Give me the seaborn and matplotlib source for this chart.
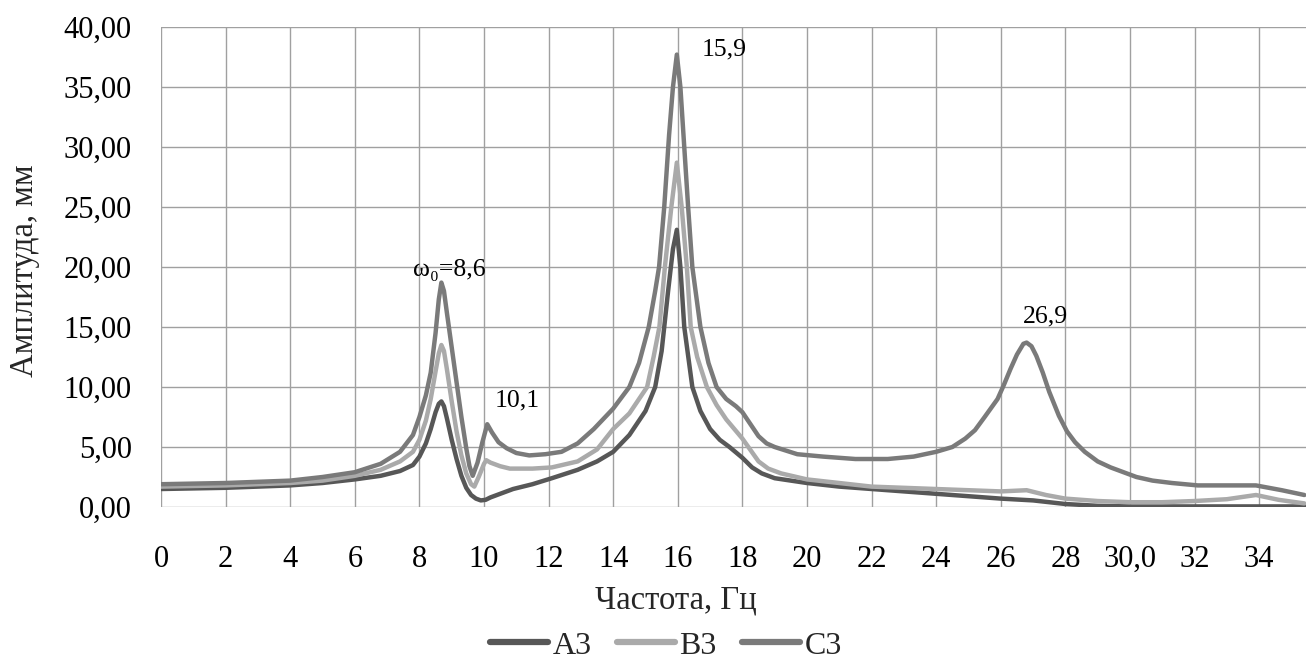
import pandas as pd
import matplotlib.pyplot as plt
import seaborn as sns

# --- data (frequency, Hz / amplitude, mm) ---
a3_freq = [0, 2, 4, 5, 6, 6.8, 7.4, 7.8, 8.0, 8.2, 8.35, 8.5, 8.6, 8.68, 8.76, 8.85, 9.0, 9.15, 9.3,
           9.45, 9.6, 9.75, 9.9, 10.05, 10.2, 10.5, 10.9, 11.5, 12.1, 12.9, 13.5, 14.0, 14.5, 15.0,
           15.3, 15.5, 15.7, 15.85, 15.97, 16.08, 16.2, 16.45, 16.7, 17.0, 17.3, 17.6, 18.0, 18.3,
           18.6, 19.0, 20, 21, 22, 23, 24, 25, 26, 27, 28, 29, 30, 32, 34, 35.4]
a3_amp = [1.5, 1.6, 1.8, 2.0, 2.3, 2.6, 3.0, 3.5, 4.2, 5.3, 6.5, 7.9, 8.6, 8.8, 8.4, 7.4, 5.6, 4.0, 2.6,
          1.6, 1.0, 0.7, 0.55, 0.6, 0.8, 1.1, 1.5, 1.9, 2.4, 3.1, 3.8, 4.6, 6.0, 8.0,
          10.0, 13.0, 18.0, 21.5, 23.1, 20.0, 15.0, 10.0, 8.0, 6.5, 5.6, 5.0, 4.1, 3.3,
          2.8, 2.4, 2.0, 1.7, 1.5, 1.3, 1.1, 0.9, 0.7, 0.55, 0.25, 0.1, 0.05, 0.05, 0.05, 0.05]

b3_freq = [0, 2, 4, 5, 6, 6.8, 7.4, 7.8, 8.0, 8.2, 8.35, 8.5, 8.6, 8.68, 8.76, 8.85, 9.0, 9.15, 9.3,
           9.45, 9.6, 9.7, 9.85, 10.0, 10.07, 10.2, 10.5, 10.8, 11.5, 12.1, 12.9, 13.5, 14.0, 14.5,
           15.05, 15.25, 15.43, 15.6, 15.8, 15.97, 16.12, 16.28, 16.4, 16.6, 16.9, 17.2, 17.5, 18.0,
           18.5, 18.8, 19.2, 20, 21, 22, 23, 24, 25, 26, 26.8, 27.4, 28, 29, 30, 31, 32, 33, 33.9,
           34.6, 35.4]
b3_amp = [1.7, 1.8, 2.0, 2.2, 2.6, 3.1, 3.8, 4.6, 5.6, 7.2, 9.0, 11.3, 12.8, 13.5, 13.0, 11.5, 8.8, 6.3, 4.3,
          2.8, 1.9, 1.7, 2.6, 3.6, 3.9, 3.7, 3.4, 3.2, 3.2, 3.3, 3.8, 4.8, 6.5, 7.8,
          10.0, 12.5, 15.0, 20.0, 25.0, 28.7, 25.0, 20.0, 15.0, 12.5, 10.0, 8.5, 7.3, 5.7,
          3.8, 3.2, 2.8, 2.3, 2.0, 1.7, 1.6, 1.5, 1.4, 1.3, 1.4, 1.0, 0.7, 0.5, 0.4, 0.4, 0.5, 0.65, 1.0,
          0.6, 0.3]

c3_freq = [0, 2, 4, 5, 6, 6.8, 7.4, 7.8, 8.0, 8.2, 8.35, 8.5, 8.6, 8.68, 8.76, 8.85, 9.0, 9.15, 9.3,
           9.45, 9.55, 9.65, 9.8, 9.95, 10.1, 10.25, 10.45, 10.7, 11.0, 11.4, 11.9, 12.4, 12.9, 13.4,
           14.0, 14.5, 14.8, 15.1, 15.3, 15.42, 15.58, 15.73, 15.85, 15.97, 16.08, 16.2, 16.32, 16.45,
           16.7, 16.95, 17.2, 17.5, 17.8, 18.0, 18.25, 18.5, 18.75, 19.0, 19.7, 20.5, 21.5, 22.5,
           23.3, 24.0, 24.5, 24.9, 25.2, 25.5, 25.9, 26.1, 26.3, 26.5, 26.7, 26.8, 26.95, 27.1, 27.3,
           27.5, 27.8, 28.05, 28.3, 28.6, 29.0, 29.4, 29.8, 30.2, 30.7, 31.3, 32.1, 33.0, 33.9, 34.3,
           34.7, 35.4]
c3_amp = [1.9, 2.0, 2.2, 2.5, 2.9, 3.6, 4.6, 6.0, 7.5, 9.3, 11.2, 14.5, 17.3, 18.7, 18.0, 16.2, 13.3, 10.4, 7.5,
          4.9, 3.4, 2.6, 3.7, 5.4, 6.9, 6.2, 5.4, 4.9, 4.5, 4.3, 4.4, 4.6, 5.3, 6.5,
          8.2, 10.0, 12.0, 15.0, 18.0, 20.0, 25.0, 31.0, 35.0, 37.7, 35.0, 30.0, 25.0, 20.0,
          15.0, 12.0, 10.0, 9.0, 8.4, 7.9, 6.9, 5.9, 5.3, 5.0, 4.4, 4.2, 4.0, 4.0,
          4.2, 4.6, 5.0, 5.7, 6.4, 7.5, 9.0, 10.2, 11.5, 12.7, 13.6, 13.7, 13.4, 12.6, 11.2,
          9.6, 7.6, 6.3, 5.4, 4.6, 3.8, 3.3, 2.9, 2.5, 2.2, 2.0, 1.8, 1.8, 1.8, 1.6,
          1.4, 1.0]

series_names = ["A3", "B3", "C3"]
series_colors = ["#575757", "#aaaaaa", "#7a7a7a"]

x_ticks = list(range(0, 35, 2))
x_tick_labels = ["0", "2", "4", "6", "8", "10", "12", "14", "16", "18", "20", "22", "24", "26", "28",
                 "30,0", "32", "34"]
y_ticks = [0, 5, 10, 15, 20, 25, 30, 35, 40]
y_tick_labels = ["0,00", "5,00", "10,00", "15,00", "20,00", "25,00", "30,00", "35,00", "40,00"]

peak_labels = ["ω₀=8,6", "10,1", "15,9", "26,9"]
peak_label_x = [8.93, 11.04, 17.43, 27.39]
peak_label_y = [19.75, 8.84, 38.1, 15.87]

df = pd.concat([
    pd.DataFrame({"freq": a3_freq, "amp": a3_amp, "series": "A3"}),
    pd.DataFrame({"freq": b3_freq, "amp": b3_amp, "series": "B3"}),
    pd.DataFrame({"freq": c3_freq, "amp": c3_amp, "series": "C3"}),
], ignore_index=True)

sns.set_theme(style="whitegrid")
plt.rcParams['font.family'] = ['Liberation Serif', 'DejaVu Serif']

fig = plt.figure(figsize=(13.06, 6.68), dpi=100)
ax = fig.add_axes([0.1233, 0.241, 0.8767, 0.7186])

sns.lineplot(data=df, x="freq", y="amp", hue="series", hue_order=series_names,
             palette=dict(zip(series_names, series_colors)), estimator=None, sort=False,
             linewidth=3.2, ax=ax)

ax.set_xlim(0, 35.45)
ax.set_ylim(0, 40)
ax.set_xticks(x_ticks)
ax.set_xticklabels(x_tick_labels)
ax.set_yticks(y_ticks)
ax.set_yticklabels(y_tick_labels)
ax.tick_params(axis="x", labelsize=22, colors="black", length=0, pad=27)
ax.tick_params(axis="y", labelsize=22, colors="black", length=0, pad=21)
ax.grid(True, color="#a0a0a0", linewidth=1.0)
for s in ax.spines.values():
    s.set_visible(False)
ax.set_xlabel("Частота, Гц", fontsize=23.5)
ax.set_ylabel("Амплитуда, мм", fontsize=23.5)
ax.xaxis.set_label_coords(0.4498, -0.1625)
ax.yaxis.set_label_coords(-0.1057, 0.4917)

for txt, tx, ty in zip(peak_labels, peak_label_x, peak_label_y):
    ax.text(tx, ty, txt, fontsize=18.5, ha="center", va="center", color="black")

leg = ax.legend(loc="center", bbox_to_anchor=(0.51, 0.033), bbox_transform=fig.transFigure,
                ncol=3, frameon=False, fontsize=23, handlelength=1.8, columnspacing=0.8,
                handletextpad=0.15, borderpad=0.0)
for line in leg.get_lines():
    line.set_linewidth(4.5)

fig.savefig("out.png", dpi=100)
plt.close(fig)
